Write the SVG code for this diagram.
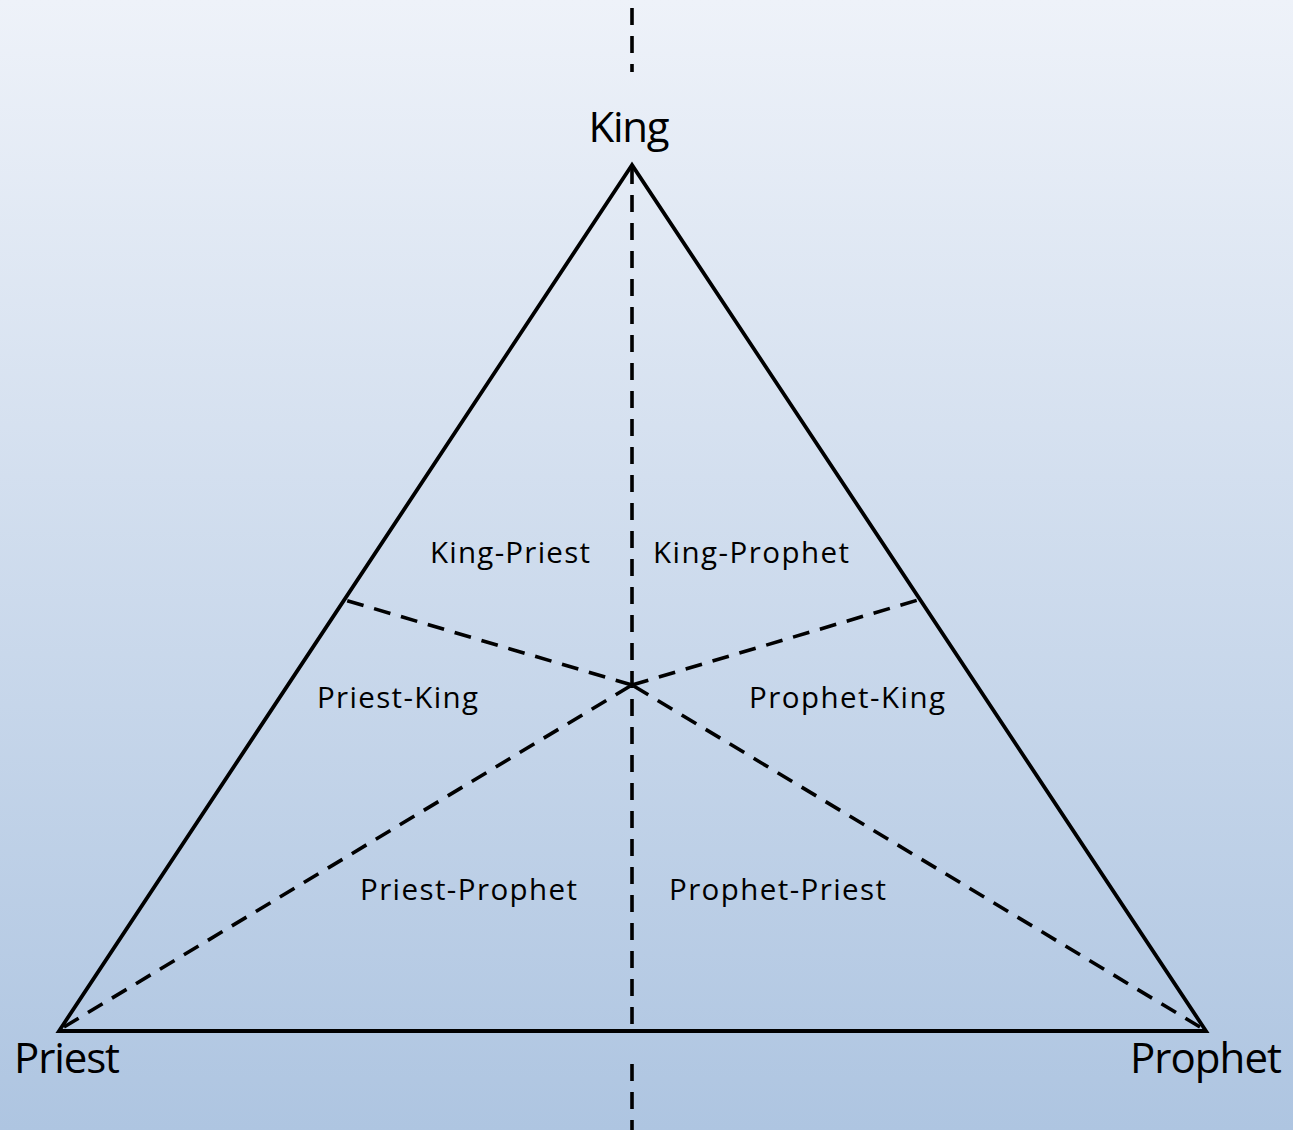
<svg xmlns="http://www.w3.org/2000/svg" width="1293" height="1130" viewBox="0 0 1293 1130">
<defs>
<linearGradient id="bg" x1="0" y1="0" x2="0" y2="1">
<stop offset="0" stop-color="#EEF2F9"/>
<stop offset="1" stop-color="#AEC5E1"/>
</linearGradient>
<style>
.solid{fill:none;stroke:#000;stroke-width:3.8;stroke-linejoin:miter}
.dash{fill:none;stroke:#000;stroke-width:3.6;stroke-dasharray:17 11}
.big{font-family:"Open Sans","Liberation Sans",sans-serif;font-size:42px;fill:#000}
.lab{font-family:"Open Sans","Liberation Sans",sans-serif;font-size:29.5px;fill:#000}
</style>
</defs>
<rect width="1293" height="1130" fill="url(#bg)"/>
<g id="connectors">
<polygon class="solid" points="632,165 59,1031 1206,1031"/>
<line class="dash" x1="632" y1="8" x2="632" y2="72"/>
<line class="dash" x1="632" y1="167" x2="632" y2="1031"/>
<line class="dash" x1="632" y1="1064" x2="632" y2="1130"/>
<line class="dash" x1="64" y1="1027" x2="632" y2="685"/>
<line class="dash" x1="632" y1="685" x2="918" y2="600"/>
<line class="dash" x1="1200" y1="1027" x2="632" y2="685"/>
<line class="dash" x1="632" y1="685" x2="345" y2="600"/>
</g>
<g id="king"><text class="big" x="629" y="142" text-anchor="middle" textLength="81">King</text></g>
<g id="priest"><text class="big" x="14" y="1073" textLength="106">Priest</text></g>
<g id="prophet"><text class="big" x="1130" y="1073" textLength="152">Prophet</text></g>
<g id="king-priest"><text class="lab" x="430" y="563" textLength="160">King-Priest</text></g>
<g id="king-prophet"><text class="lab" x="653" y="563" textLength="196">King-Prophet</text></g>
<g id="priest-king"><text class="lab" x="317" y="708" textLength="161">Priest-King</text></g>
<g id="prophet-king"><text class="lab" x="749" y="708" textLength="196">Prophet-King</text></g>
<g id="priest-prophet"><text class="lab" x="360" y="900" textLength="217">Priest-Prophet</text></g>
<g id="prophet-priest"><text class="lab" x="669" y="900" textLength="217">Prophet-Priest</text></g>
</svg>
